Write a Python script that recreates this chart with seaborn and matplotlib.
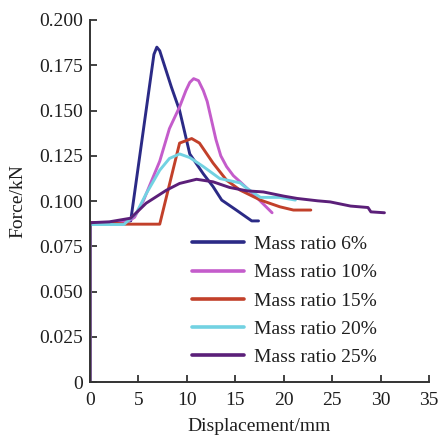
import numpy as np
import pandas as pd
import matplotlib
matplotlib.use("Agg")
import matplotlib.pyplot as plt
import seaborn as sns

labels = ["Mass ratio 6%", "Mass ratio 10%", "Mass ratio 15%", "Mass ratio 20%", "Mass ratio 25%"]
colors = ["#2b2a86", "#c45ccb", "#c2402a", "#72d2e2", "#5b1f79"]

x6 = [0, 0, 2, 4.2, 6.6, 6.9, 7.2, 8.4, 9.25, 10.3, 11.7, 12.7, 13.6, 15.1, 16.7, 17.4]
y6 = [0, 0.088, 0.088, 0.089, 0.181, 0.185, 0.183, 0.163, 0.150, 0.126, 0.115, 0.108, 0.1005, 0.095, 0.089, 0.089]

x10 = [0, 0, 2, 4.0, 4.6, 5.5, 6.5, 7.2, 8.2, 9.25, 9.9, 10.3, 10.7, 11.2, 11.7, 12.1, 12.4, 13.0, 13.5, 14.1, 14.8, 15.5, 17.2, 18.8]
y10 = [0, 0.088, 0.088, 0.089, 0.091, 0.100, 0.113, 0.122, 0.140, 0.152, 0.161, 0.1655, 0.1676, 0.1665, 0.161, 0.155, 0.148, 0.134, 0.125, 0.119, 0.114, 0.1106, 0.102, 0.0935]

x15 = [0, 0, 2, 3.6, 7.2, 9.25, 10.5, 11.3, 12.7, 14.1, 15.5, 17.6, 19.6, 21.0, 22.8]
y15 = [0, 0.088, 0.088, 0.0872, 0.0872, 0.132, 0.1345, 0.132, 0.121, 0.1115, 0.106, 0.1005, 0.0968, 0.095, 0.095]

x20 = [0, 0, 2, 3.5, 4.75, 5.8, 7.2, 8.2, 9.25, 10.3, 11.7, 13.4, 15.5, 16.2, 17.6, 19.6, 21.2]
y20 = [0, 0.087, 0.087, 0.087, 0.093, 0.104, 0.117, 0.1235, 0.126, 0.124, 0.119, 0.1124, 0.110, 0.107, 0.102, 0.102, 0.1005]

x25 = [0, 0, 2, 4.2, 5.8, 7.9, 9.25, 11.0, 12.7, 14.4, 16.2, 17.9, 20.0, 21.4, 23.5, 24.8, 26.9, 28.7, 29.0, 30.4]
y25 = [0, 0.088, 0.0885, 0.0905, 0.0988, 0.106, 0.1097, 0.112, 0.1106, 0.1075, 0.1056, 0.105, 0.1027, 0.1014, 0.1001, 0.0995, 0.0972, 0.0964, 0.094, 0.0935]

xticks = [0, 5, 10, 15, 20, 25, 30, 35]
yticks = [0, 0.025, 0.050, 0.075, 0.100, 0.125, 0.150, 0.175, 0.200]
ytick_labels = ["0", "0.025", "0.050", "0.075", "0.100", "0.125", "0.150", "0.175", "0.200"]

frames = []
for lab, xs, ys in zip(labels, [x6, x10, x15, x20, x25], [y6, y10, y15, y20, y25]):
    frames.append(pd.DataFrame({"Displacement": xs, "Force": ys, "series": lab}))
df = pd.concat(frames, ignore_index=True)

sns.set_theme(style="ticks")
plt.rcParams["font.family"] = ["Liberation Serif", "DejaVu Serif"]
plt.rcParams["font.size"] = 14
plt.rcParams["lines.solid_joinstyle"] = "round"
plt.rcParams["lines.solid_capstyle"] = "round"
text_color = "#1e1e1e"

fig = plt.figure(figsize=(4.39, 4.36), dpi=100)
ax = fig.add_axes([90 / 439, 54 / 436, 339 / 439, 362 / 436])

sns.lineplot(data=df, x="Displacement", y="Force", hue="series", hue_order=labels,
             palette=colors, sort=False, estimator=None, units="series",
             linewidth=2.1, ax=ax, legend=True)

ax.set_xlim(0, 35)
ax.set_ylim(0, 0.2)
ax.set_xticks(xticks)
ax.set_xticklabels([str(t) for t in xticks])
ax.set_yticks(yticks)
ax.set_yticklabels(ytick_labels)
for sp in ["top", "right"]:
    ax.spines[sp].set_visible(False)
for sp in ["left", "bottom"]:
    ax.spines[sp].set_linewidth(1.4)
    ax.spines[sp].set_color("#333333")
ax.tick_params(direction="in", length=5, width=1.3, colors="#333333",
               labelsize=14, labelcolor=text_color)
ax.tick_params(axis="x", pad=7)
ax.tick_params(axis="y", pad=5)
ax.set_xlabel("Displacement/mm", fontsize=14, color=text_color, labelpad=7)
ax.set_ylabel("Force/kN", fontsize=14, color=text_color, labelpad=9)

leg = ax.legend(loc="upper left", bbox_to_anchor=(0.30, 0.405), frameon=False,
                borderpad=0, borderaxespad=0, handlelength=2.7, handletextpad=0.5,
                labelspacing=0.55, fontsize=14)
for line in leg.get_lines():
    line.set_linewidth(2.6)
for t in leg.get_texts():
    t.set_color(text_color)

fig.savefig("out.png", dpi=100)
